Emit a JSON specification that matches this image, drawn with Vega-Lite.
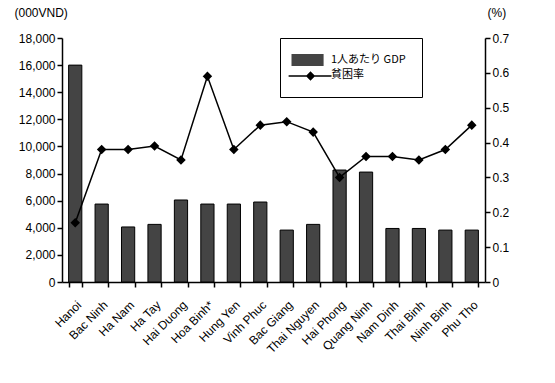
{
  "$schema": "https://vega.github.io/schema/vega-lite/v6.json",
  "width": 423,
  "height": 244,
  "autosize": {"type": "none"},
  "padding": {"left": 62, "top": 38, "right": 70, "bottom": 101},
  "background": "white",
  "config": {
    "view": {"stroke": null},
    "font": "Liberation Sans",
    "axis": {"grid": false, "domainColor": "black", "domainWidth": 1.5, "tickColor": "black", "tickWidth": 1.5, "labelColor": "black", "labelFont": "Liberation Sans", "labelFontSize": 12, "titleFont": "Liberation Sans", "titleFontSize": 12, "titleFontWeight": "normal", "titleColor": "black"}
  },
  "data": {
    "values": [
      {"region": "Hanoi", "gdp": 16000, "poverty": 0.17},
      {"region": "Bac Ninh", "gdp": 5750, "poverty": 0.38},
      {"region": "Ha Nam", "gdp": 4060, "poverty": 0.38},
      {"region": "Ha Tay", "gdp": 4250, "poverty": 0.39},
      {"region": "Hai Duong", "gdp": 6050, "poverty": 0.35},
      {"region": "Hoa Binh*", "gdp": 5750, "poverty": 0.59},
      {"region": "Hung Yen", "gdp": 5750, "poverty": 0.38},
      {"region": "Vinh Phuc", "gdp": 5900, "poverty": 0.45},
      {"region": "Bac Giang", "gdp": 3830, "poverty": 0.46},
      {"region": "Thai Nguyen", "gdp": 4250, "poverty": 0.43},
      {"region": "Hai Phong", "gdp": 8260, "poverty": 0.30},
      {"region": "Quang Ninh", "gdp": 8110, "poverty": 0.36},
      {"region": "Nam Dinh", "gdp": 3950, "poverty": 0.36},
      {"region": "Thai Binh", "gdp": 3950, "poverty": 0.35},
      {"region": "Ninh Binh", "gdp": 3830, "poverty": 0.38},
      {"region": "Phu Tho", "gdp": 3830, "poverty": 0.45}
    ]
  },
  "encoding": {
    "x": {
      "field": "region", "type": "nominal", "sort": null,
      "scale": {"paddingInner": 0.5, "paddingOuter": 0.25},
      "axis": {"title": null, "labelAngle": -45, "labelAlign": "right", "labelBaseline": "top", "labelFontSize": 12, "tickBand": "extent", "tickSize": 5, "labelPadding": 12}
    }
  },
  "layer": [
    {
      "mark": {"type": "bar", "stroke": "black", "strokeWidth": 1},
      "encoding": {
        "y": {
          "field": "gdp", "type": "quantitative",
          "scale": {"domain": [0, 18000], "nice": false},
          "axis": {"values": [0, 2000, 4000, 6000, 8000, 10000, 12000, 14000, 16000, 18000], "labelExpr": "format(datum.value, ',')", "title": "(000VND)", "titleAngle": 0, "titleX": -48, "titleY": -22, "titleAlign": "left", "titleBaseline": "alphabetic", "tickSize": 5}
        },
        "fill": {
          "datum": "1人あたり GDP",
          "scale": {"domain": ["1人あたり GDP", "貧困率"], "range": ["#444444", "transparent"]},
          "legend": {
            "title": null, "orient": "none", "legendX": 218, "legendY": 0,
            "strokeColor": "black", "fillColor": "white", "padding": 16,
            "labelFont": "Noto Sans CJK JP", "labelFontSize": 11, "labelColor": "black", "rowPadding": 3, "labelOffset": 23,
            "symbolSize": 144, "symbolType": "M-1.75,-1H3.6V1H-1.75Z", "symbolStrokeColor": "transparent", "symbolStrokeWidth": 0, "symbolOpacity": 1,
            "encode": {"legend": {"strokeWidth": {"value": 1.5}}}
          }
        }
      }
    },
    {
      "mark": {"type": "line", "strokeWidth": 1.5, "point": {"shape": "diamond", "filled": true, "fill": "black", "size": 45}},
      "encoding": {
        "y": {
          "field": "poverty", "type": "quantitative",
          "scale": {"domain": [0, 0.7], "nice": false},
          "axis": {"orient": "right", "values": [0, 0.1, 0.2, 0.3, 0.4, 0.5, 0.6, 0.7], "labelExpr": "datum.value === 0 ? '0' : format(datum.value, '.1f')", "title": "(%)", "titleAngle": 0, "titleX": 2, "titleY": -22, "titleAlign": "left", "titleBaseline": "alphabetic", "tickSize": 5}
        },
        "stroke": {
          "datum": "貧困率",
          "scale": {"domain": ["貧困率"], "range": ["black"]},
          "legend": {
            "title": null, "orient": "none", "legendX": 234, "legendY": 31, "padding": 0,
            "labelExpr": "''", "labelOffset": 0,
            "symbolSize": 144, "symbolType": "M-2.4,0H4.75M0.65,0L1.25,-0.6L1.85,0L1.25,0.6Z",
            "symbolFillColor": "#1a1a40", "symbolStrokeWidth": 1.5, "symbolOpacity": 1
          }
        }
      }
    }
  ],
  "resolve": {"scale": {"y": "independent"}}
}
